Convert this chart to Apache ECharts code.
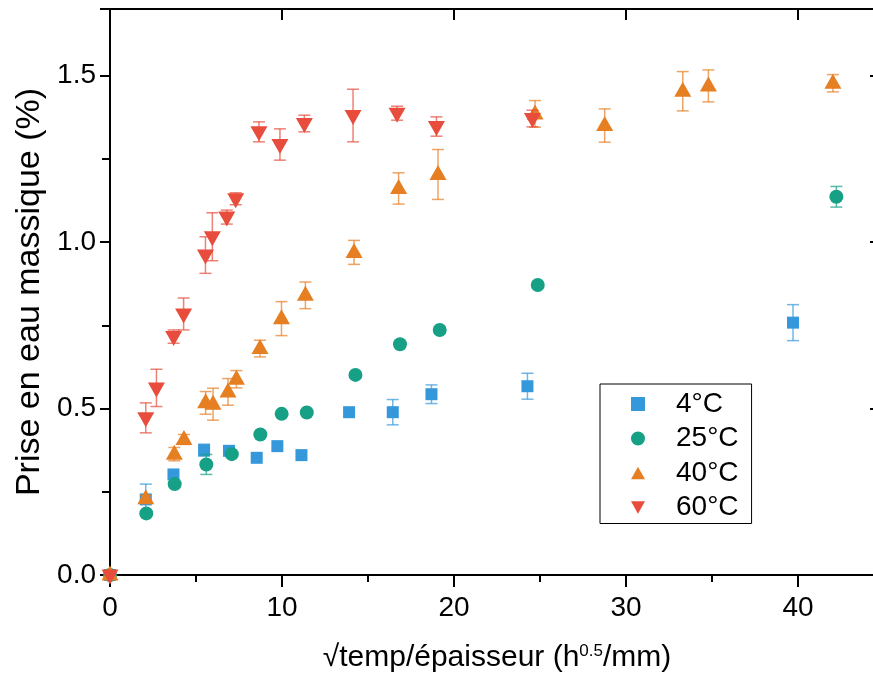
<!DOCTYPE html>
<html><head><meta charset="utf-8">
<script src="https://cdn.jsdelivr.net/npm/echarts@6/dist/echarts.min.js"></script>
<style>html,body{margin:0;padding:0;background:#fff}#c{width:873px;height:676px}</style>
</head><body><div id="c"></div>
<script>
// ---- data ----
const seriesNames = ['4°C', '25°C', '40°C', '60°C'];

const x4  = [0, 2.08, 3.69, 5.47, 6.92, 8.53, 9.73, 11.13, 13.9, 16.44, 18.69, 24.27, 39.71];
const y4  = [0, 0.227, 0.302, 0.375, 0.373, 0.352, 0.387, 0.360, 0.489, 0.489, 0.543, 0.567, 0.758];
const e4  = [0, 0.046, 0, 0.018, 0.01, 0, 0, 0, 0, 0.038, 0.028, 0.039, 0.054];

const x25 = [0, 2.11, 3.76, 5.6, 7.08, 8.74, 9.98, 11.44, 14.27, 16.86, 19.17, 24.87, 42.23];
const y25 = [0, 0.185, 0.273, 0.332, 0.363, 0.422, 0.484, 0.488, 0.601, 0.693, 0.736, 0.871, 1.136];
const e25 = [0, 0, 0, 0.03, 0, 0, 0, 0, 0, 0, 0, 0, 0.031];

const x40 = [0, 2.08, 3.74, 4.3, 5.56, 5.99, 6.86, 7.35, 8.72, 9.97, 11.36, 14.19, 16.78, 19.07, 24.71, 28.76, 33.3, 34.79, 42.03];
const y40 = [0, 0.229, 0.363, 0.407, 0.517, 0.513, 0.55, 0.588, 0.680, 0.770, 0.840, 0.969, 1.161, 1.203, 1.385, 1.350, 1.453, 1.469, 1.477];
const e40 = [0, 0.01, 0.02, 0.015, 0.034, 0.048, 0.04, 0.026, 0.025, 0.051, 0.04, 0.036, 0.047, 0.075, 0.04, 0.05, 0.059, 0.048, 0.026];

const x60 = [0, 2.08, 2.7, 3.70, 4.28, 5.55, 5.95, 6.79, 7.31, 8.66, 9.88, 11.30, 14.13, 16.69, 18.98, 24.56];
const y60 = [0, 0.472, 0.562, 0.716, 0.784, 0.961, 1.016, 1.075, 1.130, 1.331, 1.293, 1.356, 1.380, 1.387, 1.347, 1.371];
const e60 = [0, 0.045, 0.056, 0.02, 0.048, 0.055, 0.072, 0.021, 0.018, 0.03, 0.047, 0.025, 0.079, 0.021, 0.029, 0.025];

const xMajorTicks = [0, 10, 20, 30, 40];
const yMajorTicks = [0.0, 0.5, 1.0, 1.5];

// ---- styling ----
const FONT = '"Liberation Sans", Arial, sans-serif';
const colors = ['#3498DB', '#16A085', '#E67E22', '#E74C3C'];
const symbols = ['rect', 'circle', 'triangle', 'triangle'];
const symbolSizes = [12, 14, [17, 15], [17, 15]];
const symbolRot = [0, 0, 0, 180];
const symbolOff = [[0, 0], [0, 0], [0, -2], [0, 2]];
const legendIcons = ['path://M0,0H10V10H0Z', 'path://M5,0A5,5 0 1,1 4.99,0Z', 'path://M5,0L10,9L0,9Z', 'path://M0,0L10,0L5,9Z'];

const xs = [x4, x25, x40, x60], ys = [y4, y25, y40, y60], es = [e4, e25, e40, e60];

function pairs(xa, ya) { return xa.map((v, i) => [v, ya[i]]); }
function errData(xa, ya, ea) {
  const out = [];
  xa.forEach((v, i) => { if (ea[i] > 0) out.push([v, ya[i] - ea[i], ya[i] + ea[i]]); });
  return out;
}
function makeErrRender(color) {
  return function (params, api) {
    const x = api.value(0), lo = api.value(1), hi = api.value(2);
    const a = api.coord([x, lo]), b = api.coord([x, hi]);
    const h = 6;
    const st = { stroke: color, lineWidth: 1.5, opacity: 0.7 };
    return { type: 'group', children: [
      { type: 'line', shape: { x1: a[0], y1: a[1], x2: b[0], y2: b[1] }, style: st },
      { type: 'line', shape: { x1: a[0] - h, y1: a[1], x2: a[0] + h, y2: a[1] }, style: st },
      { type: 'line', shape: { x1: b[0] - h, y1: b[1], x2: b[0] + h, y2: b[1] }, style: st }
    ]};
  };
}

const series = [];
seriesNames.forEach((n, k) => {
  series.push({
    type: 'custom', name: n + ' err', xAxisIndex: 0, yAxisIndex: 0,
    data: errData(xs[k], ys[k], es[k]), renderItem: makeErrRender(colors[k]),
    z: 2 + k * 2, silent: true, encode: { x: 0, y: [1, 2] }
  });
  series.push({
    type: 'scatter', name: n, xAxisIndex: 0, yAxisIndex: 0,
    data: pairs(xs[k], ys[k]), symbol: symbols[k], symbolSize: symbolSizes[k],
    symbolRotate: symbolRot[k], symbolOffset: symbolOff[k],
    itemStyle: { color: colors[k], opacity: 1 }, z: 3 + k * 2, clip: false
  });
});

const black = '#000';
const axisLineSt = { show: true, onZero: false, lineStyle: { color: black, width: 2 } };
const noLine = { show: false };
const xLabelFmt = v => (xMajorTicks.indexOf(Math.round(v * 1000) / 1000) >= 0 ? String(v) : '');
const yLabelFmt = v => {
  const r = Math.round(v * 1000) / 1000;
  return yMajorTicks.indexOf(r) >= 0 ? r.toFixed(1) : '';
};

const option = {
  animation: false,
  backgroundColor: '#fff',
  grid: { left: 110, top: 9, width: 774, height: 566, containLabel: false, outerBoundsMode: 'none' },
  xAxis: [
    { type: 'value', position: 'bottom', min: 0, max: 45, interval: 10,
      axisLine: axisLineSt,
      axisTick: { show: true, inside: false, length: 12, lineStyle: { color: black, width: 2 } },
      axisLabel: { show: true, margin: 19, fontSize: 28, color: black, fontFamily: FONT, formatter: xLabelFmt },
      splitLine: { show: false },
      name: '{t|√temp/épaisseur (h}{s|0.5}{t|/mm)}', nameLocation: 'middle', nameGap: 68,
      nameTextStyle: { rich: {
        t: { fontSize: 30, color: black, fontFamily: FONT },
        s: { fontSize: 17, color: black, fontFamily: FONT, verticalAlign: 'top', padding: [0, 0, 12, 0] }
      } }
    },
    { type: 'value', position: 'bottom', min: 0, max: 45, interval: 5,
      axisLine: noLine, axisLabel: { show: false }, splitLine: { show: false },
      axisTick: { show: true, inside: false, length: 7, lineStyle: { color: black, width: 2 } } },
    { type: 'value', position: 'top', min: 0, max: 45, interval: 10,
      axisLine: axisLineSt, axisLabel: { show: false }, splitLine: { show: false },
      axisTick: { show: true, inside: true, length: 11, lineStyle: { color: black, width: 2 } } },
    { type: 'value', position: 'top', min: 0, max: 45, interval: 5,
      axisLine: noLine, axisLabel: { show: false }, splitLine: { show: false },
      axisTick: { show: true, inside: true, length: 6, lineStyle: { color: black, width: 2 } } }
  ],
  yAxis: [
    { type: 'value', position: 'left', min: 0, max: 1.7, interval: 0.5,
      axisLine: axisLineSt,
      axisTick: { show: true, inside: false, length: 10, lineStyle: { color: black, width: 2 } },
      axisLabel: { show: true, margin: 14, fontSize: 28, color: black, fontFamily: FONT, formatter: yLabelFmt },
      splitLine: { show: false },
      name: 'Prise en eau massique (%)', nameLocation: 'middle', nameGap: 62,
      nameTextStyle: { fontSize: 34, color: black, fontFamily: FONT }
    },
    { type: 'value', position: 'left', min: 0, max: 1.7, interval: 0.25,
      axisLine: noLine, axisLabel: { show: false }, splitLine: { show: false },
      axisTick: { show: true, inside: false, length: 6, lineStyle: { color: black, width: 2 } } },
    { type: 'value', position: 'right', min: 0, max: 1.7, interval: 0.5,
      axisLine: axisLineSt, axisLabel: { show: false }, splitLine: { show: false },
      axisTick: { show: true, inside: true, length: 14, lineStyle: { color: black, width: 2 } } },
    { type: 'value', position: 'right', min: 0, max: 1.7, interval: 0.25,
      axisLine: noLine, axisLabel: { show: false }, splitLine: { show: false },
      axisTick: { show: true, inside: true, length: 8, lineStyle: { color: black, width: 2 } } }
  ],
  legend: {
    orient: 'vertical', left: 600, top: 384,
    padding: [6, 13, 2, 31], itemGap: 6.5, itemWidth: 14, itemHeight: 14,
    borderColor: black, borderWidth: 1, borderRadius: 0,
    textStyle: { fontSize: 28, color: black, fontFamily: FONT,
      rich: { t: { fontSize: 28, color: black, fontFamily: FONT, padding: [0, 0, 0, 26] } } },
    formatter: name => '{t|' + name + '}',
    selectedMode: false,
    data: seriesNames.map((n, k) => ({ name: n, icon: legendIcons[k], itemStyle: { color: colors[k] } }))
  },
  series: series
};

const chart = echarts.init(document.getElementById('c'), null, { renderer: 'canvas' });
chart.setOption(option);
</script>
</body></html>
